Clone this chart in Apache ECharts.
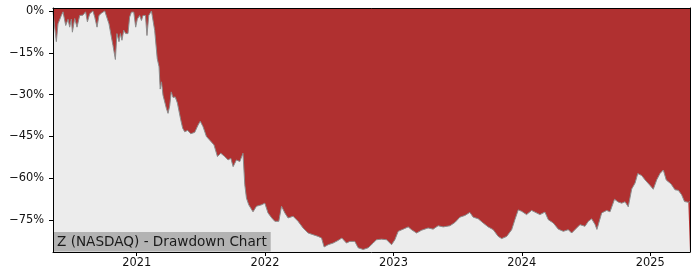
<!DOCTYPE html>
<html>
<head>
<meta charset="utf-8">
<script src="https://cdn.jsdelivr.net/npm/echarts@6/dist/echarts.min.js"></script>
<style>
html,body{margin:0;padding:0;background:#fff;}
#chart{width:700px;height:280px;}
</style>
</head>
<body>
<div id="chart"></div>
<script>
// Dates as decimal years
const dates = [
2020.348,2020.355,2020.374,2020.387,2020.413,2020.426,2020.447,2020.465,2020.478,2020.491,
2020.499,2020.517,2020.535,2020.556,2020.581,2020.602,2020.616,2020.634,2020.659,2020.673,
2020.691,2020.706,2020.725,2020.751,2020.764,2020.784,2020.803,2020.815,2020.834,2020.846,
2020.862,2020.873,2020.885,2020.899,2020.914,2020.932,2020.945,2020.959,2020.977,2020.992,
2021.005,2021.023,2021.037,2021.049,2021.068,2021.080,2021.094,2021.115,2021.127,2021.140,
2021.160,2021.174,2021.183,2021.193,2021.205,2021.218,2021.231,2021.244,2021.257,2021.269,
2021.283,2021.300,2021.317,2021.343,2021.358,2021.374,2021.397,2021.421,2021.452,2021.478,
2021.495,2021.517,2021.543,2021.569,2021.602,2021.629,2021.655,2021.686,2021.712,2021.733,
2021.751,2021.777,2021.803,2021.828,2021.842,2021.855,2021.873,2021.906,2021.933,2021.972,
2021.998,2022.023,2022.052,2022.076,2022.107,2022.128,2022.154,2022.179,2022.218,2022.257,
2022.296,2022.335,2022.374,2022.413,2022.440,2022.460,2022.491,2022.530,2022.567,2022.598,
2022.634,2022.660,2022.699,2022.725,2022.764,2022.803,2022.842,2022.868,2022.907,2022.946,
2022.985,2023.011,2023.037,2023.076,2023.115,2023.141,2023.180,2023.219,2023.270,2023.309,
2023.348,2023.387,2023.440,2023.479,2023.518,2023.557,2023.595,2023.621,2023.660,2023.699,
2023.738,2023.777,2023.816,2023.843,2023.882,2023.921,2023.946,2023.972,2023.998,2024.037,
2024.076,2024.102,2024.141,2024.180,2024.206,2024.245,2024.284,2024.323,2024.362,2024.388,
2024.427,2024.453,2024.492,2024.518,2024.544,2024.570,2024.585,2024.622,2024.661,2024.687,
2024.722,2024.751,2024.778,2024.804,2024.829,2024.856,2024.882,2024.903,2024.934,2024.959,
2024.998,2025.024,2025.051,2025.076,2025.102,2025.125,2025.162,2025.193,2025.219,2025.245,
2025.267,2025.297,2025.310
];
// Drawdown in percent
const drawdown = [
-0.2,-0.4,-11,-4.6,-1.6,-0.3,-5.2,-3,-5.8,-2.9,
-7.6,-2.7,-5.8,-1.6,-1.5,-0.3,-3.9,-1,0,-2.2,
-5.8,-1.6,-0.8,0,0,-4.6,-9.4,-12.3,-17.4,-8.1,
-11,-8.1,-10.5,-6.9,-8.1,-8.1,-2.2,-0.4,-0.4,-5.8,
-2.9,-1.6,-3.4,-1.6,-1.6,-8.8,-1.6,0,0,-7,
-17.1,-20,-28,-25.4,-30.2,-29.5,-34.9,-36.7,-34,-29,
-31,-30.8,-33,-39,-42,-43.3,-42.8,-44,-43.5,-40.9,
-39.5,-41.5,-45,-46.3,-48,-52.2,-51,-52.2,-53.4,-52.8,
-55.8,-53.4,-54,-51,-62.3,-67.1,-69.5,-72,-70,-69.5,
-68.9,-72.4,-74.2,-75.4,-75.4,-70,-72.4,-74.2,-73.6,-75.4,
-77.8,-79.6,-80.2,-80.8,-81.4,-84.6,-83.8,-83.2,-82.3,-81.4,
-83.2,-82.6,-82.6,-84.9,-85.5,-84.9,-83.2,-82,-81.8,-82,
-83.8,-82,-79,-78.2,-77.4,-78.4,-79.6,-78.6,-77.8,-78.2,
-77,-77.4,-77,-75.8,-73.9,-73.3,-72.2,-73.9,-74.5,-76,
-77.4,-78.4,-80.8,-81.6,-80.8,-78.4,-74.8,-71.3,-71.8,-73,
-71.5,-72.1,-73,-72.1,-74.8,-76,-78.2,-79,-78.4,-79.6,
-77.8,-76.6,-77.2,-75.4,-74.5,-76.5,-78.3,-72.4,-71.5,-72,
-67.5,-68.5,-68.9,-68.4,-70.2,-63.8,-61.7,-58.3,-59,-60.5,
-62.5,-63.9,-60.5,-58.3,-57,-60.6,-62,-64.1,-64.3,-65.9,
-68.3,-68.6,-68.3
];
const yTicks = [0, -15, -30, -45, -60, -75];
const xTicks = [2021, 2022, 2023, 2024, 2025];
const chartTitle = 'Z (NASDAQ) - Drawdown Chart';

const points = dates.map((d, i) => [d, drawdown[i]]);
const chart = echarts.init(document.getElementById('chart'), null, {renderer: 'canvas'});
const font = 'DejaVu Sans';
const X_MIN = 2020.348, X_MAX = 2025.310, Y_MIN = -86.4, Y_MAX = 1.07;
const frameAxis = {
  min: 0, max: 1, type: 'value', z: 5,
  splitLine: {show: false}, axisTick: {show: false}, axisLabel: {show: false},
  axisLine: {show: true, onZero: false, lineStyle: {color: '#000', width: 1}}
};
chart.setOption({
  animation: false,
  backgroundColor: '#ffffff',
  title: {
    text: chartTitle,
    left: 54, top: 232, z: 10,
    padding: [2, 4, 1, 3],
    backgroundColor: '#b3b3b3',
    textStyle: {fontFamily: font, fontSize: 13.6, fontWeight: 'normal', color: '#1a1a1a', lineHeight: 16.5}
  },
  grid: {
    left: 53, right: 10, top: 8, bottom: 28,
    show: true, backgroundColor: '#b03030', borderWidth: 0
  },
  xAxis: [{
    type: 'value',
    min: X_MIN, max: X_MAX, z: 5,
    splitLine: {show: false},
    axisLine: {show: true, onZero: false, lineStyle: {color: '#000', width: 1}},
    axisTick: {show: true, length: 4, customValues: xTicks, lineStyle: {color: '#000'}},
    axisLabel: {customValues: xTicks, margin: 6, fontFamily: font, fontSize: 11.4, color: '#111',
      formatter: v => String(Math.round(v))}
  }, Object.assign({position: 'top'}, frameAxis)],
  yAxis: [{
    type: 'value',
    min: Y_MIN, max: Y_MAX, z: 5,
    splitLine: {show: false},
    axisLine: {show: true, onZero: false, lineStyle: {color: '#000', width: 1}},
    axisTick: {show: true, length: 4, customValues: yTicks, lineStyle: {color: '#000'}},
    axisLabel: {customValues: yTicks, margin: 9, fontFamily: font, fontSize: 11.4, color: '#111',
      formatter: v => (v < 0 ? '\u2212' : '') + Math.abs(v) + '%'}
  }, Object.assign({position: 'right'}, frameAxis)],
  series: [{
    type: 'line',
    xAxisIndex: 0, yAxisIndex: 0,
    data: points,
    showSymbol: false,
    lineStyle: {color: '#8c8c8c', width: 1},
    areaStyle: {color: '#ececec', opacity: 1, origin: 'start'},
    z: 2
  }]
});
</script>
</body>
</html>
